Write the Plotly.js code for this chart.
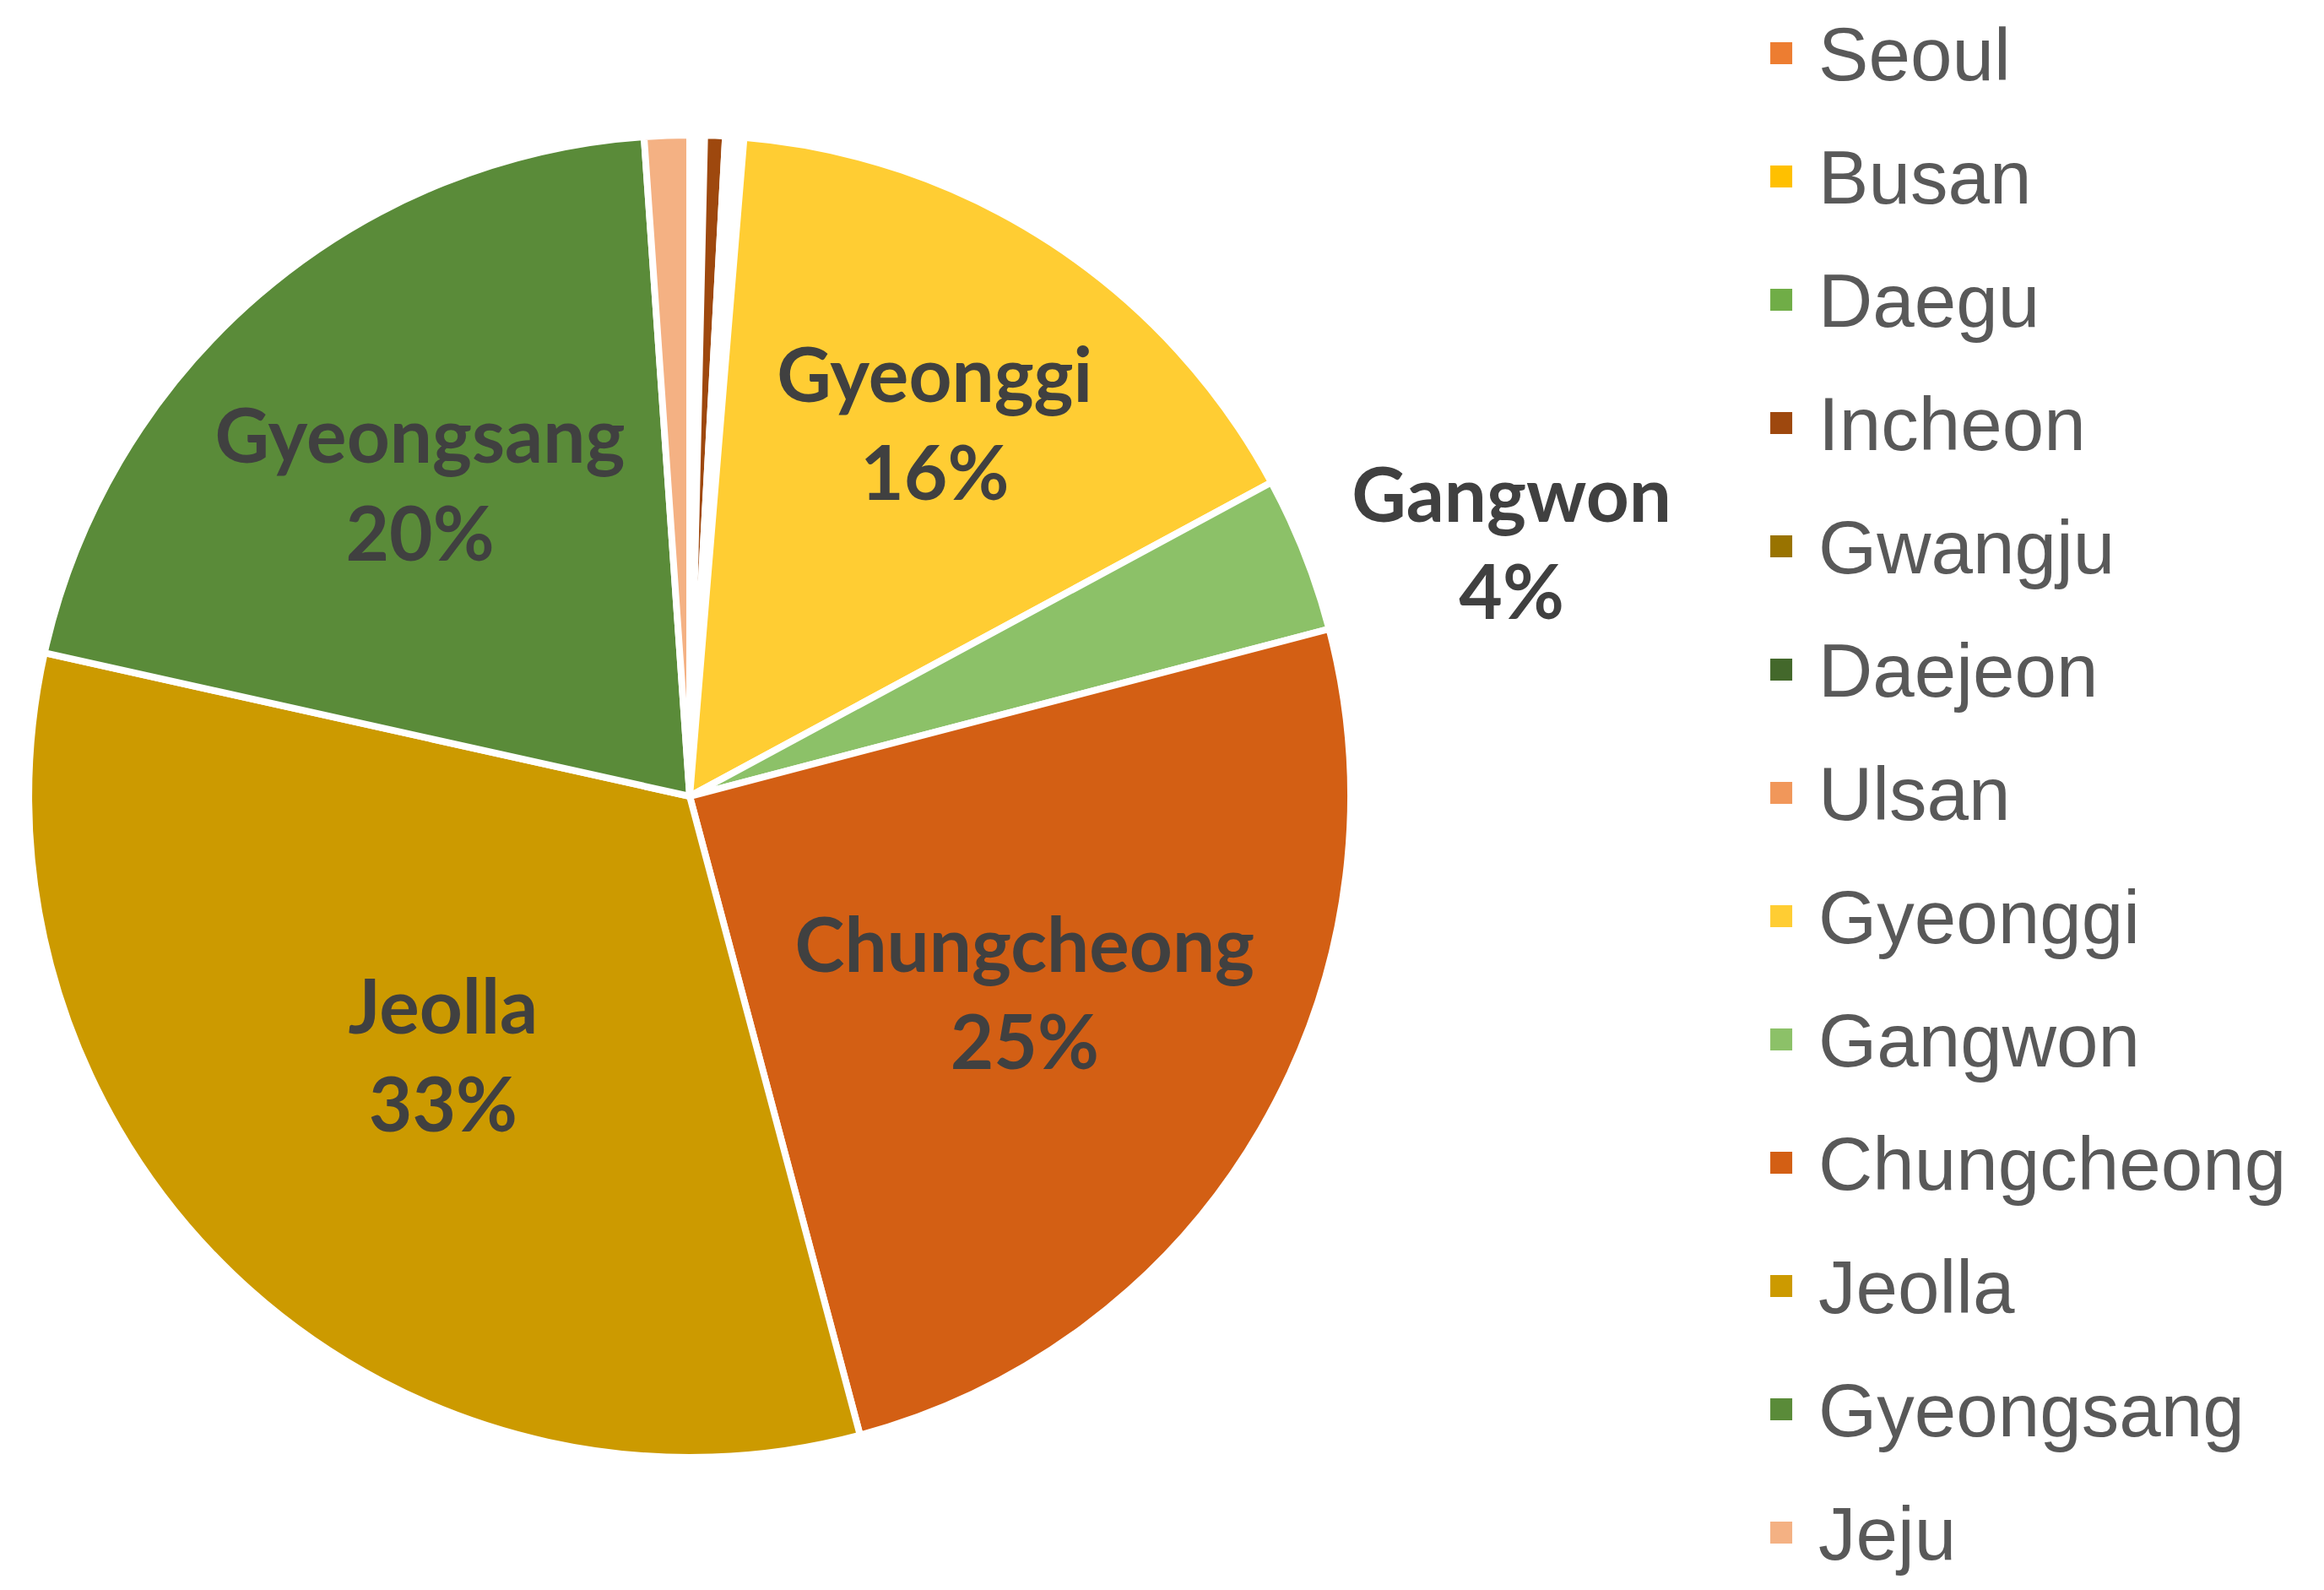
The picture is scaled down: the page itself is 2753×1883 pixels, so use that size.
<!DOCTYPE html>
<html>
<head>
<meta charset="utf-8">
<script src="https://cdn.plot.ly/plotly-3.0.1.min.js"></script>
<style>
  html, body { margin: 0; padding: 0; background: #fff; }
  #chart { width: 2753px; height: 1883px; }
  /* plotly draws pie legend swatches at a fixed 12px; the original uses ~31px,
     lifted a little so it sits level with the larger legend text */
  #chart path.legendpie { d: path("M15.5,5H-15.5V-26H15.5Z"); }
</style>
</head>
<body>
<div id="chart"></div>
<script>
// ---- data (percent of total) ----
const regions = ['Seoul', 'Busan', 'Daegu', 'Incheon', 'Gwangju', 'Daejeon', 'Ulsan',
                 'Gyeonggi', 'Gangwon', 'Chungcheong', 'Jeolla', 'Gyeongsang', 'Jeju'];
const shares = [0.12, 0.12, 0.12, 0.5, 0.15, 0.15, 0.15,
                15.8, 3.8, 24.9, 32.6, 20.4, 1.1];
const sliceColors = ['#ED7D31', '#FFC000', '#70AD47', '#9E480E', '#997300', '#43682B', '#F1975A',
                     '#FFCD33', '#8CC168', '#D35F14', '#CC9A00', '#5A8B39', '#F4B183'];
// which slices carry a data label, and where
const labelPos = ['none', 'none', 'none', 'none', 'none', 'none', 'none',
                  'inside', 'outside', 'inside', 'inside', 'inside', 'none'];

// legend entries: big text, plus an empty second line (not on the last one)
// so that the rows are spaced like the original
const legendNames = regions.map((r, i) =>
    '<span style="font-size:89px">' + r + '</span>' + (i < regions.length - 1 ? '<br>\u00a0' : ''));

const labelFont = { family: 'Lato, "Open Sans", sans-serif', size: 89, color: '#404040', weight: 700 };

const trace = {
    type: 'pie',
    labels: legendNames,
    values: shares,
    text: regions,
    texttemplate: '%{text}<br>%{percent:.0%}',
    textposition: labelPos,
    insidetextorientation: 'horizontal',
    sort: false,
    direction: 'clockwise',
    rotation: 0,
    marker: { colors: sliceColors, line: { color: '#ffffff', width: 8 } },
    textfont: labelFont,
    insidetextfont: labelFont,
    outsidetextfont: labelFont,
    domain: { x: [0.01235, 0.5812], y: [0.0834, 0.915] },
    hoverinfo: 'text+percent'
};

const layout = {
    width: 2753,
    height: 1883,
    margin: { t: 0, b: 0, l: 0, r: 0 },
    paper_bgcolor: '#ffffff',
    showlegend: true,
    legend: {
        x: 0.7483,
        xanchor: 'left',
        y: 0.9866,
        yanchor: 'top',
        valign: 'top',
        itemwidth: 78,
        borderwidth: 6,
        bordercolor: 'rgba(0,0,0,0)',
        font: { family: '"Liberation Sans", Arial, sans-serif', size: 55, color: '#595959' },
        bgcolor: 'rgba(0,0,0,0)'
    }
};

Plotly.newPlot('chart', [trace], layout, { staticPlot: true });
</script>
</body>
</html>
